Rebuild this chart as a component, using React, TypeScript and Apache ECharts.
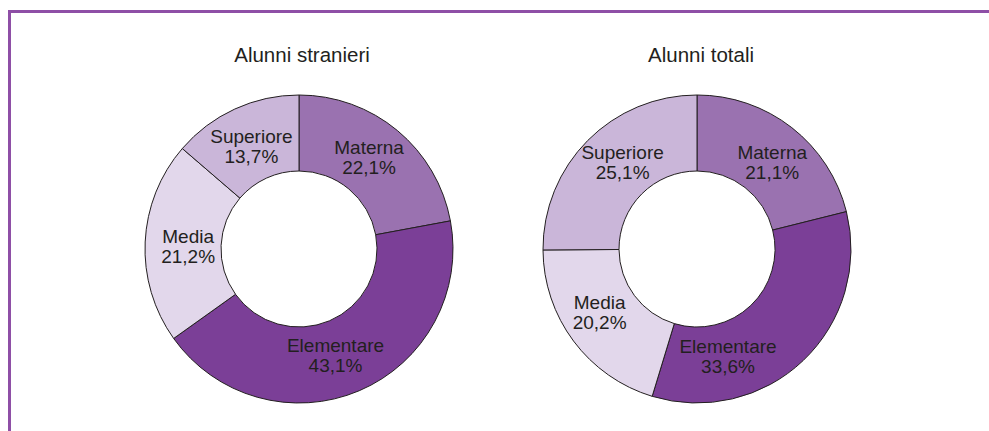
import React, { useEffect, useRef } from "react";
import * as echarts from "echarts";

const categories = ["Materna", "Elementare", "Media", "Superiore"];
const stranieriValues = [22.1, 43.1, 21.2, 13.7];
const totaliValues = [21.1, 33.6, 20.2, 25.1];
const titles = ["Alunni stranieri", "Alunni totali"];
const colors = ["#9a72b0", "#7b3f97", "#e2d7eb", "#cab6d9"];
// label nudges (style only)
const stranieriLabelOffsets = [[-6, 0], [-10, -3], [8, 3], [2, 6]];
const totaliLabelOffsets = [[2, 7], [-51, 21], [-2, -8], [10, -3]];

const FONT = "Liberation Sans, Arial, sans-serif";

function fmt(v: number) {
  return v.toFixed(1).replace(".", ",") + "%";
}

export default function App() {
  const ref = useRef<HTMLDivElement>(null);
  useEffect(() => {
    if (!ref.current) return;
    const chart = echarts.init(ref.current, undefined, { renderer: "svg" });
    const makeSeries = (values: number[], offsets: number[][], cx: number) => ({
      type: "pie",
      center: [cx, 249],
      radius: [78, 154],
      startAngle: 90,
      clockwise: true,
      silent: true,
      data: categories.map((c, i) => ({
        name: c,
        value: values[i],
        itemStyle: { color: colors[i] },
        label: { offset: offsets[i] },
      })),
      itemStyle: { borderColor: "#231f20", borderWidth: 1 },
      label: {
        show: true,
        position: "inside",
        formatter: (p: any) => `${p.name}\n${fmt(p.value)}`,
        color: "#231f20",
        fontSize: 19,
        lineHeight: 20,
        fontFamily: FONT,
        textBorderWidth: 0,
      },
      labelLine: { show: false },
      emphasis: { disabled: true },
    });
    chart.setOption({
      animation: false,
      backgroundColor: "#ffffff",
      title: [
        {
          text: titles[0],
          left: 297,
          top: 39,
          textAlign: "center",
          textStyle: { fontSize: 20.5, fontWeight: "normal", color: "#231f20", fontFamily: FONT },
        },
        {
          text: titles[1],
          left: 696,
          top: 39,
          textAlign: "center",
          textStyle: { fontSize: 20.5, fontWeight: "normal", color: "#231f20", fontFamily: FONT },
        },
      ],
      graphic: [
        { type: "rect", shape: { x: 8, y: 10, width: 981, height: 3 }, style: { fill: "#8e4fa6" }, silent: true },
        { type: "rect", shape: { x: 8, y: 10, width: 3, height: 421 }, style: { fill: "#8e4fa6" }, silent: true },
      ],
      series: [
        makeSeries(stranieriValues, stranieriLabelOffsets, 299),
        makeSeries(totaliValues, totaliLabelOffsets, 697),
      ],
    });
    return () => chart.dispose();
  }, []);
  return (
    <div
      ref={ref}
      style={{ position: "fixed", left: 0, top: 0, width: 989, height: 431 }}
    />
  );
}
